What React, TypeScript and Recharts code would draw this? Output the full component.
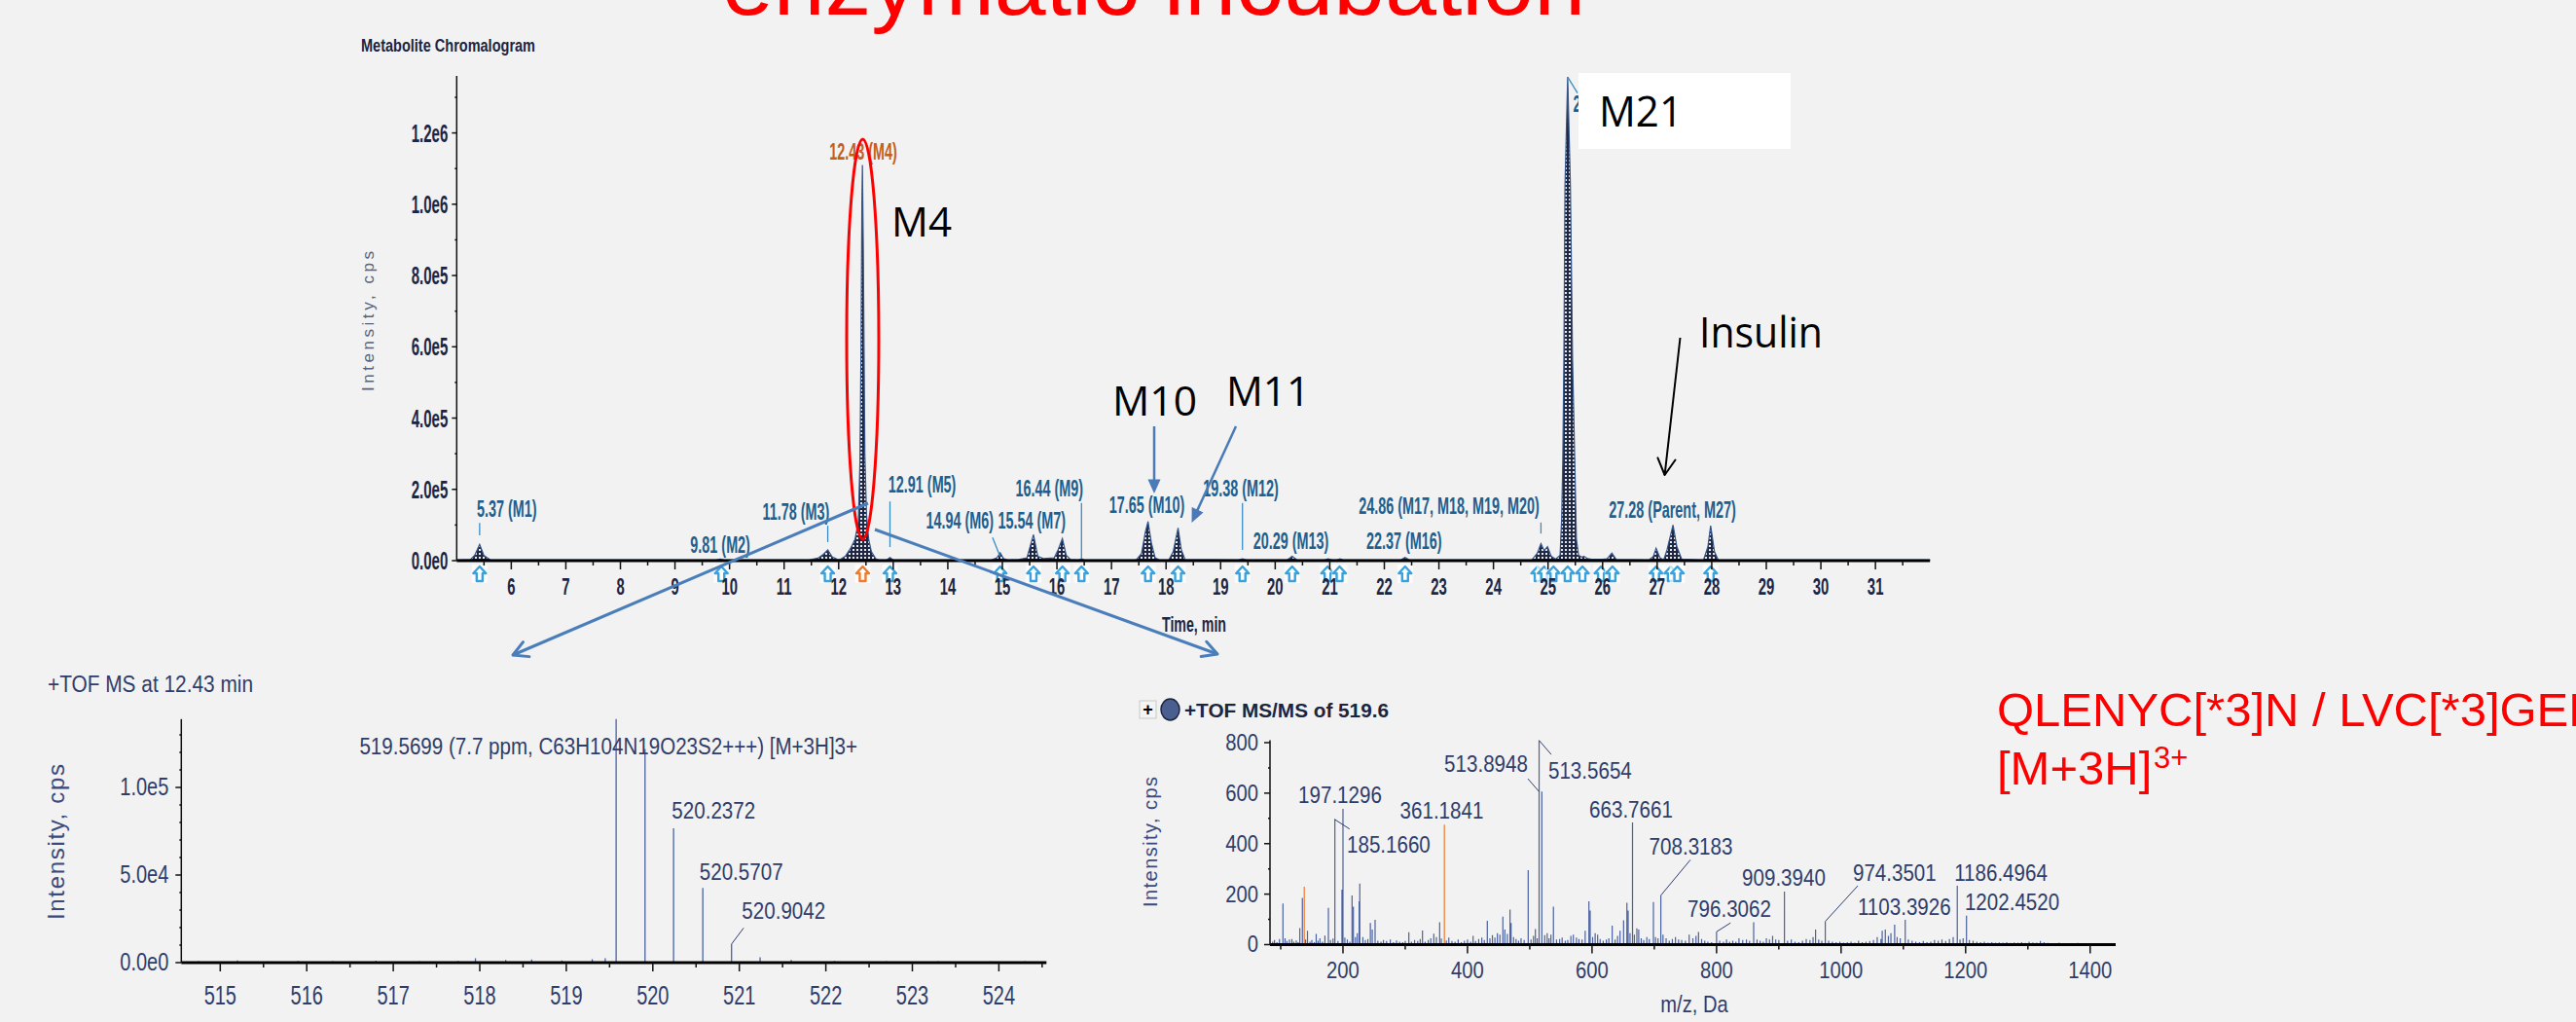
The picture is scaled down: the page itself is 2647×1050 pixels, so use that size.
import React from 'react';
import { ComposedChart, Area, Line, Scatter, XAxis, YAxis, ReferenceLine } from 'recharts';

const SANS = '"Liberation Sans", Arial, Helvetica, sans-serif';
const CALLOUT = '"Open Sans", "Noto Sans", sans-serif';

// ---------------- metabolite chromatogram (time min, intensity cps) ----------------
const chromTrace: [number, number][] = [
  [5.0, 2000], [5.25, 3000], [5.33, 15000], [5.42, 45500], [5.5, 14000], [5.62, 2000],
  [9.75, 2000], [9.83, 4500], [9.9, 2000],
  [11.45, 2000], [11.62, 7000], [11.72, 18000], [11.8, 30000], [11.88, 11000], [11.98, 3000],
  [12.02, 3000], [12.12, 12000], [12.22, 35000], [12.3, 60000], [12.36, 110000], [12.39, 280000],
  [12.41, 600000], [12.425, 1000000], [12.435, 1110000], [12.45, 900000], [12.465, 600000],
  [12.48, 300000], [12.51, 130000], [12.55, 60000], [12.6, 25000], [12.68, 5000], [12.74, 2000],
  [12.88, 2000], [12.94, 9000], [13.0, 2000],
  [14.8, 2000], [14.9, 8000], [14.96, 22000], [15.02, 6000], [15.1, 2000],
  [15.3, 3000], [15.45, 8000], [15.57, 73000], [15.65, 12000], [15.75, 6000], [15.95, 8000],
  [16.02, 30000], [16.1, 62000], [16.17, 15000], [16.25, 3000],
  [16.4, 2000], [16.45, 6000], [16.5, 2000],
  [17.45, 2000], [17.55, 20000], [17.62, 80000], [17.67, 110000], [17.73, 50000], [17.8, 8000], [17.88, 2000],
  [18.05, 2000], [18.13, 25000], [18.22, 92000], [18.28, 30000], [18.35, 3000],
  [19.32, 2000], [19.4, 5000], [19.48, 2000],
  [20.22, 2000], [20.31, 12000], [20.4, 2000],
  [20.9, 2000], [20.97, 5000], [21.05, 2000], [21.13, 2000], [21.19, 5000], [21.25, 2000],
  [22.3, 2000], [22.38, 9000], [22.46, 2000],
  [24.7, 2000], [24.8, 20000], [24.87, 48000], [24.93, 28000], [24.99, 39000], [25.06, 12000], [25.14, 4000],
  [25.22, 15000], [25.25, 120000], [25.27, 280000], [25.29, 560000], [25.31, 1050000], [25.36, 1357000],
  [25.41, 1050000], [25.45, 560000], [25.49, 280000], [25.52, 60000], [25.56, 15000], [25.62, 10000],
  [25.66, 12000], [25.72, 6000], [25.8, 4000], [26.0, 3500], [26.08, 5000], [26.17, 21000], [26.25, 3000],
  [26.85, 2000], [26.93, 12000], [26.98, 35000], [27.05, 8000], [27.12, 2000], [27.18, 30000],
  [27.29, 100000], [27.36, 40000], [27.45, 4000],
  [27.85, 2000], [27.93, 40000], [27.98, 98000], [28.05, 25000], [28.12, 2000], [32.0, 2000],
];

const timeTickLabels = [6, 7, 8, 9, 10, 11, 12, 13, 14, 15, 16, 17, 18, 19, 20, 21, 22, 23, 24, 25, 26, 27, 28, 29, 30, 31];
const cpsTicks = [0, 100000, 200000, 300000, 400000, 500000, 600000, 700000, 800000, 900000, 1000000, 1100000, 1200000, 1300000];

const peakTags = [
  { text: '5.37 (M1)', t: 5.37, level: 145000, align: 'start' },
  { text: '9.81 (M2)', t: 9.83, level: 46000, align: 'middle' },
  { text: '11.78 (M3)', t: 11.83, level: 139000, align: 'end' },
  { text: '12.91 (M5)', t: 12.91, level: 213000, align: 'start' },
  { text: '14.94 (M6)', t: 14.84, level: 112000, align: 'end' },
  { text: '15.54 (M7)', t: 14.92, level: 112000, align: 'start' },
  { text: '16.44 (M9)', t: 16.48, level: 203000, align: 'end' },
  { text: '17.65 (M10)', t: 17.65, level: 158000, align: 'middle' },
  { text: '19.38 (M12)', t: 19.37, level: 203000, align: 'middle' },
  { text: '20.29 (M13)', t: 20.29, level: 57000, align: 'middle' },
  { text: '22.37 (M16)', t: 22.36, level: 57000, align: 'middle' },
  { text: '24.86 (M17, M18, M19, M20)', t: 24.84, level: 155000, align: 'end' },
  { text: '25.36 (M21)', t: 25.46, level: 1281000, align: 'start' },
  { text: '27.28 (Parent, M27)', t: 27.28, level: 144000, align: 'middle' },
];
const focusTag = [{ text: '12.43 (M4)', t: 12.45, level: 1149000, align: 'middle' }];

const tagLeaders: [number, number, number, number][] = [
  [5.42, 106000, 5.42, 71000],
  [11.8, 98000, 11.8, 52000],
  [12.94, 166000, 12.94, 38000],
  [14.82, 65000, 14.96, 11000],
  [16.45, 162000, 16.45, 8000],
  [19.4, 162000, 19.4, 30000],
  [24.87, 107000, 24.87, 76000],
  [25.36, 1357000, 25.54, 1312000],
];

const markerTimes = [5.42, 9.85, 11.8, 12.94, 14.96, 15.57, 16.1, 16.45, 17.67, 18.22, 19.4, 20.31, 20.96,
  21.18, 22.38, 24.81, 24.93, 25.1, 25.36, 25.63, 25.97, 26.18, 26.98, 27.25, 27.37, 27.98];
const focusMarkerTimes = [12.44];

// ---------------- +TOF MS at 12.43 min (m/z, cps) ----------------
const msPeaks: [number, number][] = [
  [514.75, 800], [515.2, 1200], [515.55, 700], [515.9, 1000], [516.3, 900], [516.8, 1100],
  [517.3, 800], [517.75, 1000], [517.95, 2500], [518.3, 1500], [518.6, 1800], [518.95, 1300],
  [519.3, 2000], [519.45, 2500], [519.576, 139000], [519.91, 122000], [520.24, 76700],
  [520.578, 42600], [520.91, 10600], [521.24, 3000], [521.6, 1500], [522.1, 1000],
  [522.7, 800], [523.3, 900], [523.9, 700], [524.3, 800],
];
const msTickLabels = [515, 516, 517, 518, 519, 520, 521, 522, 523, 524];
const msCpsTicks = [0, 10000, 20000, 30000, 40000, 50000, 60000, 70000, 80000, 90000, 100000, 110000, 120000, 130000];
const msTags = [
  { text: '519.5699 (7.7 ppm, C63H104N19O23S2+++) [M+3H]3+', mz: 516.61, level: 123500, align: 'start' },
  { text: '520.2372', mz: 520.22, level: 86700, align: 'start' },
  { text: '520.5707', mz: 520.54, level: 52000, align: 'start' },
  { text: '520.9042', mz: 521.03, level: 29400, align: 'start' },
];
const msLeaders: [number, number, number, number][] = [[520.91, 10600, 521.05, 19800]];

// ---------------- +TOF MS/MS of 519.6 (m/z, cps) ----------------
const msmsPeaks: [number, number][] = [
  [87, 12], [90, 18], [94, 10], [98, 22], [103.6, 163], [107, 25], [110, 14], [114, 20], [118, 22],
  [121, 12], [125, 16], [128, 10], [130.7, 66], [134.8, 185], [140, 20], [143, 55], [147, 12],
  [150, 18], [154, 10], [157, 42], [160, 15], [163, 25], [167, 12], [171, 36], [176.6, 146],
  [180, 18], [184, 24], [187, 497], [192, 14], [198.4, 218], [200, 538], [203, 28], [207, 20],
  [211, 12], [214.6, 195], [216.7, 150], [220, 30], [223, 45], [226, 172], [227, 242], [232, 30],
  [236, 18], [240, 22], [244, 86], [247, 60], [251.6, 98], [256, 15], [261, 12], [265, 18],
  [270, 14], [276, 20], [281, 10], [286, 16], [291, 12], [296, 10], [300, 14], [305.8, 49],
  [310, 12], [315, 18], [320, 14], [324, 22], [327.7, 56], [332, 12], [337, 18], [341, 25],
  [345.9, 43], [350, 30], [355.3, 89], [358, 24], [366, 16], [370, 28], [375, 14], [380, 12],
  [385, 20], [390, 10], [395, 15], [400, 20], [405, 12], [409, 35], [413, 14], [418, 22],
  [423, 28], [427, 18], [431.8, 94], [436, 25], [440, 38], [444, 28], [448, 45], [452, 40],
  [456.8, 111], [460, 60], [464, 42], [468.3, 139], [470, 86], [474, 30], [478, 22], [482, 15],
  [486, 25], [491, 18], [497.5, 295], [502, 20], [506, 35], [509, 62], [512, 25], [515, 809],
  [519.4, 606], [524, 38], [528, 45], [531, 25], [534, 40], [538, 150], [543, 20], [548, 22],
  [552, 28], [557, 15], [561, 18], [566, 35], [570, 40], [575, 28], [579, 22], [584, 20],
  [589, 55], [595, 172], [597, 135], [601, 30], [605, 45], [609, 40], [613, 22], [618, 15],
  [623, 20], [627, 25], [632.4, 75], [637, 20], [641, 35], [645, 55], [650.7, 96], [656, 166],
  [658, 135], [661, 45], [665, 484], [668, 40], [672, 65], [675, 60], [679, 25], [683, 18],
  [688, 30], [692, 22], [698.6, 169], [702, 30], [706, 25], [710.5, 195], [714, 40], [719, 25],
  [724, 15], [729, 22], [734, 30], [739, 20], [744, 18], [750, 15], [756, 40], [762, 25],
  [767, 35], [771, 50], [776, 22], [781, 15], [786, 12], [792, 10], [800, 51], [805, 15],
  [811, 12], [816, 20], [821, 12], [826, 15], [831, 12], [836, 25], [842, 18], [848, 20],
  [853, 15], [859.6, 89], [865, 20], [870, 15], [875, 12], [880, 25], [885, 20], [890, 35],
  [895, 20], [900, 18], [909, 210], [914, 15], [920, 20], [926, 12], [932, 10], [938, 15],
  [944, 22], [950, 18], [955, 30], [959, 60], [964, 20], [969, 15], [974.6, 92], [980, 15],
  [986, 12], [992, 10], [998, 12], [1004, 8], [1010, 10], [1016, 12], [1022, 8], [1028, 15],
  [1034, 10], [1040, 12], [1046, 14], [1052, 18], [1058, 30], [1064, 22], [1066, 55], [1071, 60],
  [1076, 35], [1080, 45], [1086, 79], [1090, 30], [1095, 25], [1103, 98], [1108, 20], [1114, 15],
  [1120, 12], [1126, 10], [1132, 14], [1138, 10], [1144, 12], [1150, 18], [1156, 15], [1162, 20],
  [1168, 14], [1174, 22], [1180, 30], [1186.6, 233], [1191, 20], [1196, 25], [1201.4, 115],
  [1206, 18], [1212, 15], [1218, 12], [1224, 10], [1230, 12], [1236, 8], [1242, 10], [1248, 8],
  [1254, 9], [1260, 8], [1266, 10], [1272, 7], [1278, 9], [1284, 8], [1290, 10], [1296, 7],
  [1302, 12], [1308, 9], [1314, 8], [1320, 14], [1326, 10], [1332, 7], [1340, 6], [1350, 8],
  [1360, 6], [1370, 5], [1380, 7], [1390, 5], [1400, 6], [1412, 5], [1425, 6], [1438, 4],
];
const msmsHighlighted: [number, number][] = [[137.9, 229], [362.9, 475]];
const msmsXTicks = [100, 200, 300, 400, 500, 600, 700, 800, 900, 1000, 1100, 1200, 1300, 1400];
const msmsCpsTicks = [0, 100, 200, 300, 400, 500, 600, 700, 800];
const msmsTags = [
  { text: '197.1296', mz: 195.3, level: 591, align: 'middle' },
  { text: '185.1660', mz: 206.3, level: 394, align: 'start' },
  { text: '361.1841', mz: 358.6, level: 529, align: 'middle' },
  { text: '513.8948', mz: 429.8, level: 715, align: 'middle' },
  { text: '513.5654', mz: 529.8, level: 687, align: 'start' },
  { text: '663.7661', mz: 662.6, level: 535, align: 'middle' },
  { text: '708.3183', mz: 758.8, level: 387, align: 'middle' },
  { text: '796.3062', mz: 820.5, level: 143, align: 'middle' },
  { text: '909.3940', mz: 908, level: 265, align: 'middle' },
  { text: '974.3501', mz: 1086, level: 282, align: 'middle' },
  { text: '1186.4964', mz: 1256.6, level: 282, align: 'middle' },
  { text: '1103.3926', mz: 1101.5, level: 150, align: 'middle' },
  { text: '1202.4520', mz: 1274.6, level: 169, align: 'middle' },
];
const msmsLeaders: [number, number, number, number][] = [
  [186.7, 496, 210.6, 458],
  [497, 657, 515, 606],
  [515, 809, 534.5, 753],
  [710.5, 195, 758, 336],
  [800, 51, 822.4, 86],
  [974.6, 92, 1026.8, 233],
];

// ---------------- helpers ----------------
const sci = (v: number) => v.toExponential(1).replace('+', '');
const sticks = (peaks: [number, number][]) =>
  peaks.flatMap(([m, h]) => [{ x: m, y: 0 }, { x: m, y: h }, { x: m, y: 0 }]);

function CText({ x, y, text, anchor = 'start', size, sx = 1, weight = 400, fill, family = SANS, len }: any) {
  if (len) {
    return (
      <text x={x} y={y} fontFamily={family} fontSize={size} fontWeight={weight} fill={fill}
        textAnchor={anchor} dominantBaseline="central" textLength={len} lengthAdjust="spacingAndGlyphs">{text}</text>
    );
  }
  return (
    <text transform={`translate(${x},${y}) scale(${sx},1)`} fontFamily={family} fontSize={size}
      fontWeight={weight} fill={fill} textAnchor={anchor} dominantBaseline="central">{text}</text>
  );
}

function Arrow({ from, to, color, width, head, filled = false }: any) {
  const [x1, y1] = from;
  const [x2, y2] = to;
  const a = Math.atan2(y2 - y1, x2 - x1);
  const spread = filled ? 0.42 : 0.5;
  const l = [x2 - head * Math.cos(a - spread), y2 - head * Math.sin(a - spread)];
  const r = [x2 - head * Math.cos(a + spread), y2 - head * Math.sin(a + spread)];
  const ex = filled ? x2 - head * 0.8 * Math.cos(a) : x2;
  const ey = filled ? y2 - head * 0.8 * Math.sin(a) : y2;
  return (
    <g>
      <line x1={x1} y1={y1} x2={ex} y2={ey} stroke={color} strokeWidth={width} />
      {filled
        ? <polygon points={`${l.join(',')} ${x2},${y2} ${r.join(',')}`} fill={color} />
        : <polyline points={`${l.join(',')} ${x2},${y2} ${r.join(',')}`} fill="none" stroke={color}
            strokeWidth={width} strokeLinecap="round" strokeLinejoin="round" />}
    </g>
  );
}

function upArrow(color: string) {
  return (p: any) => {
    const x = p.cx;
    const y = p.cy + 14;
    const d = `M ${x} ${y - 8} L ${x + 6.5} ${y - 1} L ${x + 3} ${y - 1} L ${x + 3} ${y + 7} L ${x - 3} ${y + 7} L ${x - 3} ${y - 1} L ${x - 6.5} ${y - 1} Z`;
    return (
      <g>
        <rect x={x - 8} y={y - 10} width={16} height={19} fill="#ffffff" opacity={0.7} />
        <path d={d} fill="#ffffff" stroke={color} strokeWidth={2.4} strokeLinejoin="round" />
      </g>
    );
  };
}

function tagShape(style: any) {
  return (p: any) => <CText x={p.cx} y={p.cy} text={p.payload.text} anchor={p.payload.align} {...style} />;
}

const TOP_TAG = { size: 24, sx: 0.6, weight: 700, fill: '#1d5f8f' };
const MS_TAG = { size: 24.5, sx: 0.84, fill: '#2e3d6b' };

// ticks
const timeTick = (p: any) => {
  const v = p.payload.value;
  const major = Number.isInteger(v);
  return (
    <g>
      <line x1={p.x} x2={p.x} y1={p.y} y2={p.y + (major ? 9 : 5)} stroke="#111" strokeWidth={1.5} />
      {major && <CText x={p.x} y={p.y + 27} text={String(v)} anchor="middle" size={24} sx={0.62} weight={700} fill="#1c2542" />}
    </g>
  );
};
const cpsTick = (p: any) => {
  const v = p.payload.value;
  const major = v % 200000 === 0;
  return (
    <g>
      <line x1={p.x - (major ? 5 : 2)} x2={p.x} y1={p.y} y2={p.y} stroke="#111" strokeWidth={1.5} />
      {major && <CText x={p.x - 9} y={p.y} text={sci(v)} anchor="end" size={25} sx={0.6} weight={700} fill="#1c2542" />}
    </g>
  );
};
const msXTick = (p: any) => {
  const v = p.payload.value;
  const major = Number.isInteger(v);
  return (
    <g>
      <line x1={p.x} x2={p.x} y1={p.y} y2={p.y + (major ? 9 : 5)} stroke="#111" strokeWidth={1.5} />
      {major && <CText x={p.x} y={p.y + 33} text={String(v)} anchor="middle" size={27} sx={0.74} fill="#2e3d6b" />}
    </g>
  );
};
const msYTick = (p: any) => {
  const v = p.payload.value;
  const major = v % 50000 === 0;
  return (
    <g>
      <line x1={p.x - (major ? 6 : 2)} x2={p.x} y1={p.y} y2={p.y} stroke="#111" strokeWidth={1.5} />
      {major && <CText x={p.x - 13} y={p.y} text={sci(v)} anchor="end" size={25} sx={0.8} fill="#2e3d6b" />}
    </g>
  );
};
const msmsXTick = (p: any) => {
  const v = p.payload.value;
  const major = v % 200 === 0;
  return (
    <g>
      <line x1={p.x} x2={p.x} y1={p.y} y2={p.y + (major ? 9 : 5)} stroke="#111" strokeWidth={1.5} />
      {major && <CText x={p.x} y={p.y + 27} text={String(v)} anchor="middle" size={23} sx={0.88} fill="#2e3d6b" />}
    </g>
  );
};
const msmsYTick = (p: any) => {
  const v = p.payload.value;
  const major = v % 200 === 0;
  return (
    <g>
      <line x1={p.x - (major ? 6 : 2)} x2={p.x} y1={p.y} y2={p.y} stroke="#111" strokeWidth={1.5} />
      {major && <CText x={p.x - 12} y={p.y} text={String(v)} anchor="end" size={23} sx={0.88} fill="#2e3d6b" />}
    </g>
  );
};

const timeTicks = [5.5, ...timeTickLabels.flatMap((t) => [t, t + 0.5])];
const msXTicks = msTickLabels.flatMap((m) => [m, m + 0.5]);

export default function App() {
  const chromData = chromTrace.map(([t, v]) => ({ x: t, y: v }));
  const tagData = peakTags.map((d) => ({ ...d, x: d.t, y: d.level }));
  const focusData = focusTag.map((d) => ({ ...d, x: d.t, y: d.level }));
  const markerData = markerTimes.map((t) => ({ x: t, y: 0 }));
  const focusMarkerData = focusMarkerTimes.map((t) => ({ x: t, y: 0 }));
  const msTagData = msTags.map((d) => ({ ...d, x: d.mz, y: d.level }));
  const msmsTagData = msmsTags.map((d) => ({ ...d, x: d.mz, y: d.level }));

  return (
    <div style={{ position: 'absolute', left: 0, top: 0, width: 2647, height: 1050, background: '#f2f2f2', overflow: 'hidden', fontFamily: SANS }}>
      {/* chromatogram */}
      <div style={{ position: 'absolute', left: 0, top: 0 }}>
        <ComposedChart width={2050} height={680} margin={{ top: 78, right: 66.8, bottom: 44, left: 409.3 }}>
          <defs>
            <pattern id="chk" width="4" height="4" patternUnits="userSpaceOnUse">
              <rect width="4" height="4" fill="#1f2840" />
              <rect width="2" height="2" fill="#e6e9ef" />
            </pattern>
          </defs>
          <XAxis type="number" dataKey="x" domain={[5, 32]} ticks={timeTicks} interval={0} tick={timeTick}
            tickLine={false} tickSize={0} tickMargin={0} axisLine={{ stroke: '#000', strokeWidth: 3 }} height={60} />
          <YAxis type="number" dataKey="y" domain={[0, 1360000]} ticks={cpsTicks} interval={0} tick={cpsTick}
            tickLine={false} tickSize={0} tickMargin={0} axisLine={{ stroke: '#111', strokeWidth: 1.5 }} width={60} />
          <Area data={chromData} dataKey="y" type="linear" stroke="#35548a" strokeWidth={1.2} fill="url(#chk)"
            fillOpacity={1} isAnimationActive={false} dot={false} activeDot={false} />
          {tagLeaders.map(([a, b, c, d], i) => (
            <ReferenceLine key={i} segment={[{ x: a, y: b }, { x: c, y: d }]} stroke="#3a8cc4" strokeWidth={1.3} />
          ))}
          <Scatter data={markerData} shape={upArrow('#39a2dc')} isAnimationActive={false} />
          <Scatter data={focusMarkerData} shape={upArrow('#f07a2a')} isAnimationActive={false} />
          <Scatter data={tagData} shape={tagShape(TOP_TAG)} isAnimationActive={false} />
          <Scatter data={focusData} shape={tagShape({ ...TOP_TAG, fill: '#c2601e' })} isAnimationActive={false} />
        </ComposedChart>
      </div>

      {/* +TOF MS */}
      <div style={{ position: 'absolute', left: 0, top: 650 }}>
        <ComposedChart width={1150} height={400} margin={{ top: 88.8, right: 74.7, bottom: 11, left: 126.3 }}>
          <XAxis type="number" dataKey="x" domain={[514.55, 524.55]} ticks={msXTicks} interval={0} tick={msXTick}
            tickLine={false} tickSize={0} tickMargin={0} axisLine={{ stroke: '#000', strokeWidth: 3 }} height={50} />
          <YAxis type="number" dataKey="y" domain={[0, 139000]} ticks={msCpsTicks} interval={0} tick={msYTick}
            tickLine={false} tickSize={0} tickMargin={0} axisLine={{ stroke: '#111', strokeWidth: 1.5 }} width={60} />
          <Line data={sticks(msPeaks)} dataKey="y" type="linear" stroke="#4a64a3" strokeWidth={1.3}
            dot={false} activeDot={false} isAnimationActive={false} />
          {msLeaders.map(([a, b, c, d], i) => (
            <ReferenceLine key={i} segment={[{ x: a, y: b }, { x: c, y: d }]} stroke="#2e3d6b" strokeWidth={1} />
          ))}
          <Scatter data={msTagData} shape={tagShape(MS_TAG)} isAnimationActive={false} />
        </ComposedChart>
      </div>

      {/* +TOF MS/MS */}
      <div style={{ position: 'absolute', left: 1150, top: 650 }}>
        <ComposedChart width={1100} height={400} margin={{ top: 110.4, right: 76, bottom: 29.5, left: 95 }}>
          <XAxis type="number" dataKey="x" domain={[82.8, 1441]} ticks={msmsXTicks} interval={0} tick={msmsXTick}
            tickLine={false} tickSize={0} tickMargin={0} axisLine={{ stroke: '#000', strokeWidth: 3 }} height={50} />
          <YAxis type="number" dataKey="y" domain={[0, 810]} ticks={msmsCpsTicks} interval={0} tick={msmsYTick}
            tickLine={false} tickSize={0} tickMargin={0} axisLine={{ stroke: '#111', strokeWidth: 1.5 }} width={60} />
          <Line data={sticks(msmsPeaks)} dataKey="y" type="linear" stroke="#4b62a0" strokeWidth={1.2}
            dot={false} activeDot={false} isAnimationActive={false} />
          <Line data={sticks(msmsHighlighted)} dataKey="y" type="linear" stroke="#f08a4a" strokeWidth={1.4}
            dot={false} activeDot={false} isAnimationActive={false} />
          {msmsLeaders.map(([a, b, c, d], i) => (
            <ReferenceLine key={i} segment={[{ x: a, y: b }, { x: c, y: d }]} stroke="#2e3d6b" strokeWidth={1} />
          ))}
          <Scatter data={msmsTagData} shape={tagShape(MS_TAG)} isAnimationActive={false} />
        </ComposedChart>
      </div>

      {/* slide annotations */}
      <svg width={2647} height={1050} style={{ position: 'absolute', left: 0, top: 0, pointerEvents: 'none' }}>
        <text x={742} y={15} fontSize={95} fill="#ff0000" fontFamily={SANS}>enzymatic incubation</text>
        <CText x={371} y={47} text="Metabolite Chromalogram" size={18} weight={700} fill="#1c2542" len={179} />
        <text transform="translate(384,330) rotate(-90)" textAnchor="middle" fontSize={17} fill="#56627e"
          fontFamily={SANS} textLength={144} lengthAdjust="spacing">Intensity, cps</text>
        <CText x={1227} y={641} text="Time, min" anchor="middle" size={22} weight={700} fill="#1c2542" len={66} />

        <ellipse cx={886.5} cy={348.5} rx={16.5} ry={205.5} fill="none" stroke="#ff0000" strokeWidth={3} />
        <text x={916} y={243} fontSize={42} fontFamily={CALLOUT} fill="#000" textLength={62} lengthAdjust="spacingAndGlyphs">M4</text>
        <text x={1143} y={427} fontSize={42} fontFamily={CALLOUT} fill="#000" textLength={87} lengthAdjust="spacingAndGlyphs">M10</text>
        <text x={1260} y={417} fontSize={42} fontFamily={CALLOUT} fill="#000" textLength={86} lengthAdjust="spacingAndGlyphs">M11</text>
        <Arrow from={[1186, 438]} to={[1186, 507]} color="#4a7ab8" width={2.5} head={16} filled />
        <Arrow from={[1270, 438]} to={[1224.5, 537]} color="#4a7ab8" width={2.5} head={16} filled />
        <text x={1746} y={357} fontSize={44} fontFamily={CALLOUT} fill="#000" textLength={127} lengthAdjust="spacingAndGlyphs">Insulin</text>
        <Arrow from={[1726.5, 347]} to={[1710.6, 488]} color="#000" width={2} head={19} />
        <rect x={1622} y={75} width={218} height={78} fill="#ffffff" />
        <text x={1643} y={130} fontSize={43} fontFamily={CALLOUT} fill="#000" textLength={86} lengthAdjust="spacingAndGlyphs">M21</text>

        <Arrow from={[892, 517]} to={[527, 673]} color="#4a7ebb" width={3} head={17} />
        <Arrow from={[899, 544]} to={[1251, 672]} color="#4a7ebb" width={3} head={17} />

        <CText x={49} y={703} text="+TOF MS at 12.43 min" size={23} fill="#2e3d6b" len={211} />
        <text transform="translate(66,865) rotate(-90)" textAnchor="middle" fontSize={24} fill="#3b4a7c"
          fontFamily={SANS} textLength={160} lengthAdjust="spacing">Intensity, cps</text>

        <rect x={1171} y={720} width={17} height={18} fill="#f4f4f4" stroke="#c8c8c8" strokeWidth={1} />
        <CText x={1179.5} y={729} text="+" anchor="middle" size={18} weight={700} fill="#000" />
        <ellipse cx={1202.5} cy={729} rx={9.5} ry={11} fill="#4a5f8f" stroke="#1c2540" strokeWidth={1.5} />
        <CText x={1217} y={729} text="+TOF MS/MS of 519.6" size={21} weight={700} fill="#1c2540" len={210} />
        <text transform="translate(1189,865) rotate(-90)" textAnchor="middle" fontSize={20} fill="#3b4a7c"
          fontFamily={SANS} textLength={134} lengthAdjust="spacing">Intensity, cps</text>
        <CText x={1741} y={1032} text="m/z, Da" anchor="middle" size={24} sx={0.84} fill="#2e3d6b" />

        <text x={2052} y={746} fontSize={49} fill="#ff0000" fontFamily={SANS}>QLENYC[*3]N / LVC[*3]GER</text>
        <text x={2052} y={806} fontSize={49} fill="#ff0000" fontFamily={SANS}>[M+3H]</text>
        <text x={2213} y={789} fontSize={31} fill="#ff0000" fontFamily={SANS}>3+</text>
      </svg>
    </div>
  );
}
